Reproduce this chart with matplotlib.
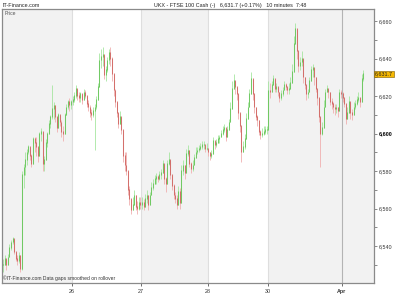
import numpy as np
import matplotlib
matplotlib.use("Agg")
import matplotlib.pyplot as plt

plt.rcParams['font.family'] = ['Liberation Sans', 'DejaVu Sans']

# 10 minute bars of UKX (FTSE 100 Cash)
days = ['25', '26', '27', '28', '30', 'Apr']
bars_per_day = [44, 44, 42, 38, 47, 14]

low = [
    # 25
    6526, 6530, 6527, 6530, 6535, 6538, 6541, 6536, 6532, 6530, 6531, 6526, 6527, 6571, 6578,
    6583, 6589, 6586, 6582, 6586, 6590, 6588, 6585, 6593, 6596, 6580, 6580, 6588, 6593, 6600,
    6603, 6608, 6608, 6606, 6601, 6603, 6604, 6598, 6596, 6601, 6610, 6613, 6612, 6613,
    # 26
    6615, 6617, 6619, 6618, 6617, 6617, 6616, 6618, 6619, 6614, 6612, 6609, 6607, 6609, 6591,
    6613, 6620, 6632, 6635, 6636, 6629, 6628, 6633, 6637, 6636, 6628, 6620, 6614, 6609, 6603,
    6606, 6600, 6585, 6580, 6578, 6567, 6562, 6557, 6559, 6563, 6559, 6557, 6559, 6560,
    # 27
    6560, 6559, 6562, 6563, 6559, 6563, 6568, 6570, 6573, 6573, 6574, 6575, 6576, 6580, 6573,
    6569, 6578, 6583, 6576, 6570, 6565, 6563, 6560, 6565, 6560, 6575, 6578, 6576, 6585, 6588,
    6582, 6579, 6580, 6583, 6588, 6589, 6590, 6591, 6592, 6592, 6590, 6591,
    # 28
    6588, 6586, 6587, 6593, 6592, 6593, 6595, 6595, 6598, 6599, 6601, 6596, 6599, 6603, 6608,
    6619, 6624, 6621, 6618, 6608, 6601, 6585, 6590, 6592, 6602, 6611, 6617, 6624, 6618, 6611,
    6607, 6604, 6599, 6597, 6598, 6599, 6600, 6600,
    # 30
    6618, 6619, 6623, 6626, 6622, 6622, 6620, 6617, 6618, 6620, 6623, 6623, 6621, 6621, 6624,
    6630, 6640, 6650, 6640, 6633, 6634, 6636, 6627, 6624, 6618, 6619, 6622, 6629, 6630, 6626,
    6622, 6615, 6606, 6582, 6599, 6610, 6619, 6622, 6619, 6615, 6613, 6611, 6610, 6611, 6609,
    6620, 6619,
    # Apr
    6617, 6614, 6605, 6608, 6614, 6608, 6607, 6611, 6613, 6615, 6617, 6614, 6620, 6628,
]
high = [
    # 25
    6533, 6535, 6533, 6536, 6541, 6543, 6545, 6541, 6536, 6535, 6537, 6532, 6580, 6584, 6590,
    6592, 6594, 6591, 6589, 6598, 6598, 6598, 6593, 6601, 6603, 6592, 6588, 6597, 6601, 6607,
    6610, 6626, 6617, 6613, 6608, 6611, 6610, 6607, 6604, 6611, 6616, 6618, 6619, 6618,
    # 26
    6620, 6622, 6626, 6624, 6622, 6622, 6621, 6624, 6623, 6620, 6618, 6615, 6613, 6614, 6616,
    6620, 6627, 6643, 6645, 6646, 6640, 6636, 6641, 6645, 6646, 6641, 6631, 6624, 6617, 6611,
    6612, 6608, 6601, 6590, 6590, 6580, 6572, 6564, 6566, 6570, 6566, 6564, 6566, 6566,
    # 27
    6566, 6565, 6568, 6570, 6566, 6569, 6574, 6576, 6578, 6579, 6578, 6580, 6581, 6586, 6584,
    6577, 6586, 6590, 6584, 6576, 6573, 6569, 6567, 6572, 6571, 6583, 6586, 6583, 6592, 6594,
    6588, 6585, 6586, 6589, 6593, 6593, 6594, 6595, 6596, 6596, 6594, 6595,
    # 28
    6592, 6590, 6591, 6598, 6596, 6597, 6599, 6599, 6602, 6604, 6605, 6601, 6604, 6608, 6617,
    6628, 6632, 6628, 6624, 6618, 6609, 6597, 6596, 6600, 6611, 6617, 6624, 6633, 6625, 6617,
    6612, 6610, 6604, 6602, 6603, 6604, 6604, 6604,
    # 30
    6628, 6627, 6628, 6631, 6627, 6627, 6624, 6622, 6623, 6625, 6628, 6627, 6625, 6627, 6630,
    6637, 6652, 6659, 6652, 6642, 6641, 6644, 6636, 6630, 6625, 6624, 6630, 6636, 6637, 6633,
    6627, 6624, 6614, 6605, 6606, 6618, 6624, 6626, 6624, 6620, 6619, 6617, 6616, 6616, 6614,
    6624, 6623,
    # Apr
    6622, 6619, 6612, 6614, 6620, 6614, 6613, 6617, 6618, 6620, 6622, 6619, 6632, 6634,
]
close = [
    # 25
    6530, 6533, 6530, 6534, 6539, 6542, 6544, 6537, 6533, 6532, 6535, 6528, 6578, 6582, 6586,
    6590, 6593, 6588, 6584, 6597, 6595, 6593, 6588, 6600, 6601, 6584, 6586, 6595, 6600, 6605,
    6609, 6613, 6615, 6609, 6603, 6610, 6606, 6601, 6600, 6610, 6614, 6617, 6615, 6617,
    # 26
    6618, 6620, 6624, 6620, 6619, 6621, 6618, 6622, 6620, 6616, 6614, 6611, 6610, 6612, 6614,
    6618, 6625, 6639, 6641, 6642, 6631, 6634, 6639, 6643, 6640, 6632, 6623, 6617, 6611, 6605,
    6609, 6602, 6588, 6583, 6580, 6570, 6565, 6559, 6562, 6567, 6561, 6560, 6563, 6562,
    # 27
    6563, 6561, 6565, 6567, 6562, 6567, 6571, 6573, 6576, 6577, 6576, 6578, 6579, 6584, 6576,
    6573, 6584, 6586, 6578, 6572, 6567, 6565, 6562, 6569, 6563, 6580, 6583, 6579, 6589, 6591,
    6584, 6581, 6583, 6587, 6590, 6591, 6592, 6593, 6594, 6594, 6592, 6592,
    # 28
    6590, 6588, 6589, 6596, 6594, 6595, 6597, 6598, 6600, 6602, 6603, 6598, 6602, 6606, 6613,
    6624, 6628, 6625, 6621, 6611, 6604, 6590, 6593, 6597, 6608, 6614, 6621, 6629, 6621, 6614,
    6609, 6607, 6601, 6599, 6600, 6601, 6602, 6602,
    # 30
    6623, 6622, 6626, 6629, 6624, 6625, 6622, 6619, 6621, 6623, 6626, 6625, 6623, 6624, 6627,
    6633, 6648, 6656, 6644, 6636, 6638, 6640, 6630, 6626, 6621, 6622, 6628, 6634, 6635, 6630,
    6624, 6619, 6609, 6600, 6603, 6614, 6622, 6624, 6622, 6617, 6616, 6614, 6613, 6614, 6612,
    6622, 6621,
    # Apr
    6619, 6616, 6608, 6611, 6617, 6611, 6610, 6614, 6616, 6618, 6619, 6617, 6629, 6631.7,
]

y_ticks = [6540, 6560, 6580, 6600, 6620, 6640, 6660]
bold_level = 6600
last_price = 6631.7
title = "UKX - FTSE 100 Cash (-)   6,631.7 (+0.17%)   10 minutes  7:48"

n = min(len(low), len(high), len(close))
lo = np.array(low[:n], dtype=float)
hi = np.array(high[:n], dtype=float)
cl = np.array(close[:n], dtype=float)
op = np.concatenate([[cl[0]], cl[:-1]])
hi = np.maximum(hi, np.maximum(op, cl))
lo = np.minimum(lo, np.minimum(op, cl))
x = np.arange(n)

# day boundaries sit half way between the last bar of a day and the next
starts = np.cumsum([0] + bars_per_day)
seps = starts[1:-1] - 0.5

fig = plt.figure(figsize=(4, 3), dpi=100)
ax = fig.add_axes([0.005, 1 - 283 / 300, 0.93, 274 / 300])
xmin, xmax = -0.65, 234.9
ax.set_xlim(xmin, xmax)
ax.set_ylim(6520.3, 6666.4)

# alternate day shading
edges = [xmin] + list(seps) + [xmax]
for i in range(len(days)):
    if i % 2 == 0 or i >= 4:
        ax.axvspan(edges[i], edges[i + 1], color='#f2f2f2', lw=0, zorder=0)
for i, s in enumerate(seps):
    col = '#b4b4b4' if days[i + 1] == 'Apr' else '#dedede'
    ax.axvline(s, color=col, lw=0.8, zorder=1)

up = cl >= op
dn = ~up
body_lo = np.minimum(op, cl)
body_hi = np.maximum(op, cl) + 0.4
ax.vlines(x[up], lo[up], hi[up], color='#a6e6a0', lw=0.6, zorder=2)
ax.vlines(x[dn], lo[dn], hi[dn], color='#f0b0b0', lw=0.6, zorder=2)
ax.vlines(x[up], body_lo[up], body_hi[up], color='#5cc04c', lw=0.75, alpha=0.75, zorder=3)
ax.vlines(x[dn], body_lo[dn], body_hi[dn], color='#c8504a', lw=0.75, alpha=0.7, zorder=3)

# right hand price axis
ax.yaxis.tick_right()
ax.set_yticks(y_ticks)
ax.set_yticks(np.arange(6530, 6670, 10), minor=True)
ax.set_yticklabels([f"{v:,}" for v in y_ticks])
ax.tick_params(axis='y', which='both', length=2.5, width=0.6, color='#777777',
               labelsize=3.9, pad=1, labelcolor='#333333')
for lab, v in zip(ax.get_yticklabels(), y_ticks):
    if v == bold_level:
        lab.set_fontweight('bold')
        lab.set_color('black')

ax.set_xticks(seps)
ax.set_xticklabels(days[1:])
ax.tick_params(axis='x', length=2, width=0.6, color='#555555', labelsize=3.9,
               pad=2, labelcolor='#333333')
ax.get_xticklabels()[-1].set_fontweight('bold')

for sp in ax.spines.values():
    sp.set_color('#8a8a8a')
    sp.set_linewidth(0.9)

ax.text(1.003, last_price, f"{last_price:,.1f}", transform=ax.get_yaxis_transform(),
        ha='left', va='center', fontsize=3.9, color='#222222',
        bbox=dict(boxstyle='square,pad=0.15', fc='#f6b800', ec='#7a5a00', lw=0.4))

ax.text(0.006, 0.992, "Price", transform=ax.transAxes, ha='left', va='top',
        fontsize=3.6, color='#555555')
ax.text(0.004, 0.008, "\u00a9IT-Finance.com Data gaps smoothed on rollover",
        transform=ax.transAxes, ha='left', va='bottom', fontsize=3.6, color='#333333')

fig.text(0.006, 0.982, "IT-Finance.com", ha='left', va='center', fontsize=3.9,
         color='#222222')
fig.text(0.575, 0.982, title, ha='center', va='center', fontsize=3.9, color='#222222')

fig.savefig('out.png', dpi=100)
